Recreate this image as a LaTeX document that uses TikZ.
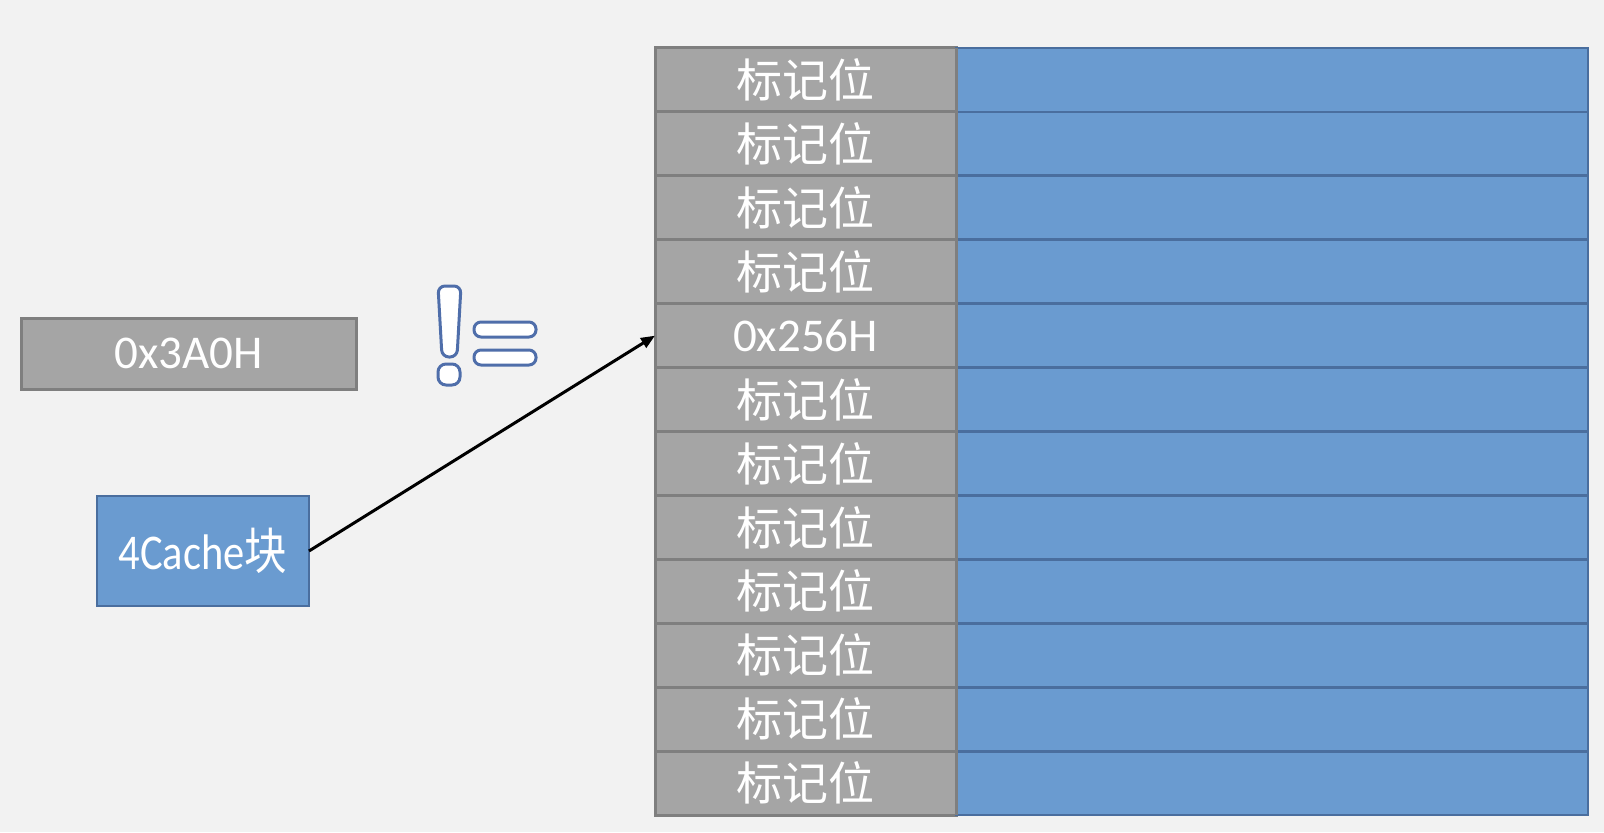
\documentclass[tikz,border=0pt]{standalone}
\usepackage{fontspec}
\setmainfont{Carlito}
\newfontfamily\cjk{Noto Sans CJK SC}
\usetikzlibrary{positioning, arrows.meta}

\definecolor{bgcol}{RGB}{242,242,242}
\definecolor{tagfill}{RGB}{165,165,165}
\definecolor{tagline}{RGB}{127,127,127}
\definecolor{datafill}{RGB}{106,155,208}
\definecolor{dataline}{RGB}{74,110,158}
\definecolor{signline}{RGB}{79,110,170}

\begin{document}
\begin{tikzpicture}[
      x=1pt, y=1pt,
      >={Triangle[length=7pt, width=5.5pt]},
      tagcell/.style={draw=tagline, fill=tagfill, line width=1.5pt,
        minimum width=150.5pt, minimum height=31.96pt, inner sep=0pt,
        outer sep=0pt, text=white, font=\cjk\fontsize{23}{26}\selectfont},
      datacell/.style={draw=dataline, fill=datafill, line width=1.4pt,
        minimum width=316pt, minimum height=31.96pt, inner sep=0pt,
        outer sep=0pt},
      addrbox/.style={draw=tagline, fill=tagfill, line width=1.5pt,
        minimum width=167.5pt, minimum height=35.5pt, inner sep=0pt,
        text=white, font=\fontsize{23.5}{28}\selectfont},
      blockbox/.style={draw=dataline, fill=datafill, line width=1.2pt,
        minimum width=106pt, minimum height=55pt, inner sep=0pt,
        outer sep=0pt, text=white},
      signpart/.style={draw=signline, fill=white, line width=1.5pt,
        rounded corners=3.5pt},
    ]

    % background and bounding box
    \fill[bgcol] (0,0) rectangle (802,416);

    % cache table
    \node[tagcell, anchor=north west] (tag1) at (327.5,392) {标记位};
    \foreach \i [remember=\i as \prev (initially 1)] in {2,...,12}{
      \ifnum\i=5
        \node[tagcell, below=0pt of tag\prev, font=\fontsize{23.5}{28}\selectfont] (tag\i) {0x256H};
      \else
        \node[tagcell, below=0pt of tag\prev] (tag\i) {标记位};
      \fi
    }
    \foreach \i in {1,...,12}
      \node[datacell, right=0pt of tag\i] (data\i) {};
    % redraw gray column over blue borders
    \foreach \i in {1,...,12}
      \draw[tagline, line width=1.5pt] (tag\i.north east) -- (tag\i.south east);

    % address and block
    \node[addrbox] (addr) at (94.25,239.25) {0x3A0H};
    \node[blockbox] (block) at (101.5,140.5)
      {\scalebox{0.85}[1]{\fontsize{25}{30}\selectfont 4Cache{\cjk 块}}};

    % not-equal sign
    \draw[signpart] (219,273) -- (230.5,273) -- (228.5,237.5) -- (221,237.5) -- cycle;
    \draw[signpart, rounded corners=4pt] (219,223.5) rectangle (230,234);
    \draw[signpart] (237,247.5) rectangle (268,255);
    \draw[signpart] (237,233.5) rectangle (268,241);

    \draw[->, line width=1.5pt] (block.east) -- (tag5.west);

  \end{tikzpicture}
\end{document}
